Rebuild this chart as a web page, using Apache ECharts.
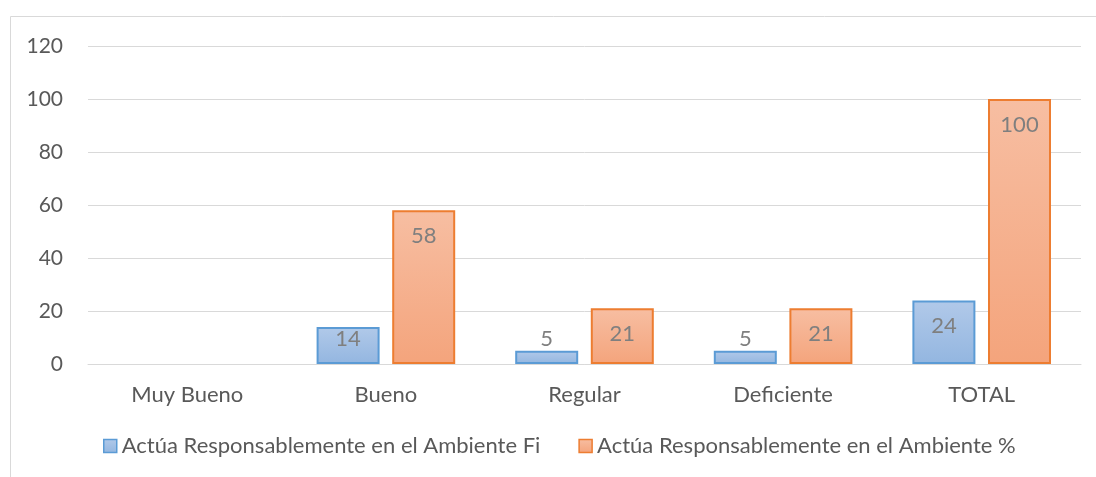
<!DOCTYPE html>
<html>
<head>
<meta charset="utf-8">
<script src="https://cdn.jsdelivr.net/npm/echarts@6/dist/echarts.min.js"></script>
<style>
  html, body { margin: 0; padding: 0; background: #fff; }
  #chart { width: 1096px; height: 477px; }
</style>
</head>
<body>
<div id="chart"></div>
<script>
const categories = ['Muy Bueno', 'Bueno', 'Regular', 'Deficiente', 'TOTAL']
const fiValues = [null, 14, 5, 5, 24]
const pctValues = [null, 58, 21, 21, 100]
const seriesNames = ['Actúa Responsablemente en el Ambiente Fi', 'Actúa Responsablemente en el Ambiente %']

const font = 'Lato, "Open Sans", sans-serif'

// short bars: label sits higher (or above the bar when it doesn't fit)
function toItems(values) {
  return values.map(v => {
    if (v === null) return { value: null }
    if (v < 8) return { value: v, label: { position: 'top', distance: 1 } }
    if (v < 18) return { value: v, label: { distance: 1 } }
    return { value: v }
  })
}

const chart = echarts.init(document.getElementById('chart'))
chart.setOption({
  animation: false,
  textStyle: { fontFamily: font },
  graphic: [{
    type: 'polyline',
    shape: { points: [[10.5, 477], [10.5, 16.5], [1096, 16.5]] },
    style: { stroke: '#d9d9d9', lineWidth: 1, fill: null }
  }],
  grid: { left: 88, right: 15, top: 46, bottom: 113 },
  legend: {
    bottom: 15,
    left: 98,
    itemWidth: 13,
    itemHeight: 13,
    itemGap: 38,
    itemStyle: { borderWidth: 1.5 },
    icon: 'rect',
    textStyle: { color: '#595959', fontSize: 22, fontFamily: font },
    data: seriesNames
  },
  xAxis: {
    type: 'category',
    data: categories,
    axisLine: { lineStyle: { color: '#d9d9d9', width: 1 } },
    axisTick: { show: false },
    axisLabel: { color: '#595959', fontSize: 22, margin: 20, fontFamily: font }
  },
  yAxis: {
    type: 'value',
    min: 0,
    max: 120,
    interval: 20,
    axisLine: { show: false },
    axisTick: { show: false },
    splitLine: { lineStyle: { color: '#d9d9d9', width: 1 } },
    axisLabel: { color: '#595959', fontSize: 21, margin: 25, fontFamily: font }
  },
  series: [{
    name: seriesNames[0],
    type: 'bar',
    barWidth: 63,
    barGap: '20%',
    data: toItems(fiValues),
    itemStyle: {
      color: new echarts.graphic.LinearGradient(0, 0, 0, 1, [
        { offset: 0, color: '#b1c9e9' },
        { offset: 1, color: '#93b6e0' }
      ]),
      borderColor: '#5b9bd5',
      borderWidth: 2
    },
    label: { show: true, position: 'insideTop', distance: 15, color: '#7f7f7f', fontSize: 22, fontFamily: font }
  }, {
    name: seriesNames[1],
    type: 'bar',
    barWidth: 63,
    data: toItems(pctValues),
    itemStyle: {
      color: new echarts.graphic.LinearGradient(0, 0, 0, 1, [
        { offset: 0, color: '#f7bea2' },
        { offset: 1, color: '#f4a47c' }
      ]),
      borderColor: '#ed7d31',
      borderWidth: 2
    },
    label: { show: true, position: 'insideTop', distance: 15, color: '#7f7f7f', fontSize: 22, fontFamily: font }
  }]
})
</script>
</body>
</html>
